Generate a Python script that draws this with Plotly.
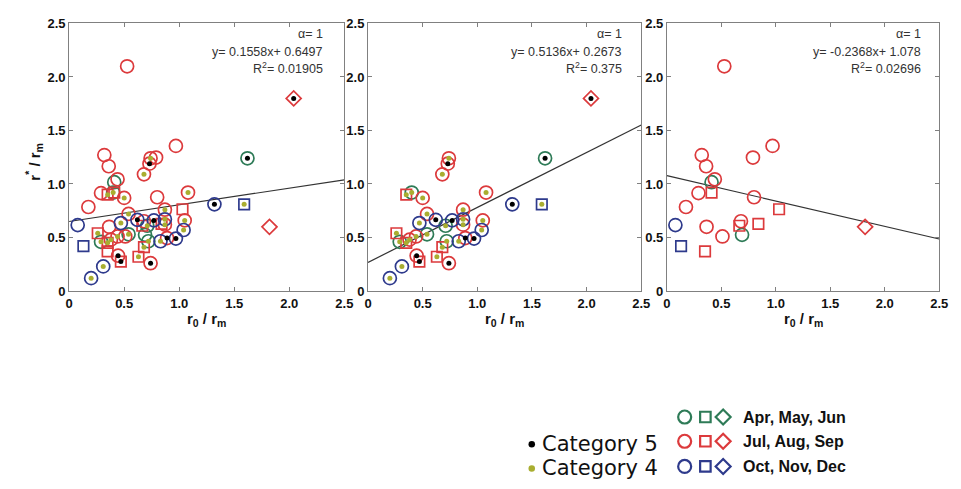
import plotly.graph_objects as go

# ---------------- data ----------------
# Points tagged with a storm category (shown in panels 1 and 2)
cat_x = [2.04, 1.62, 1.59, 1.32, 0.74, 0.73, 0.68, 0.40, 0.35, 0.50,
         1.08, 0.87, 0.54, 1.05, 0.62, 0.77, 0.87, 0.87, 0.47, 0.71,
         1.04, 0.26, 0.54, 0.44, 0.38, 0.29, 0.35, 0.89, 0.97, 0.83,
         0.72, 0.68, 0.445, 0.47, 0.63, 0.74, 0.31, 0.20]
cat_y = [1.80, 1.24, 0.81, 0.81, 1.24, 1.19, 1.09, 0.92, 0.90, 0.87,
         0.92, 0.76, 0.72, 0.66, 0.665, 0.66, 0.67, 0.62, 0.635, 0.61,
         0.57, 0.54, 0.53, 0.51, 0.48, 0.46, 0.45, 0.495, 0.49, 0.465,
         0.465, 0.41, 0.33, 0.275, 0.32, 0.26, 0.23, 0.12]
cat_season = ["JAS", "AMJ", "OND", "OND", "JAS", "JAS", "JAS", "AMJ", "JAS", "JAS",
              "JAS", "JAS", "JAS", "JAS", "OND", "OND", "OND", "JAS", "OND", "AMJ",
              "OND", "JAS", "AMJ", "JAS", "JAS", "AMJ", "JAS", "JAS", "OND", "OND",
              "AMJ", "JAS", "JAS", "JAS", "JAS", "JAS", "OND", "OND"]
cat_shape = ["diamond", "circle", "square", "circle", "circle", "circle", "circle", "circle", "square", "circle",
             "circle", "circle", "circle", "circle", "circle", "circle", "circle", "circle", "circle", "circle",
             "circle", "square", "circle", "circle", "circle", "circle", "square", "circle", "circle", "circle",
             "circle", "square", "circle", "square", "square", "circle", "circle", "circle"]
cat_class = [5, 5, 4, 5, 4, 5, 4, 4, 4, 4,
             4, 4, 4, 4, 5, 5, 4, 4, 4, 4,
             4, 4, 4, 4, 4, 4, 4, 5, 5, 4,
             4, 4, 5, 5, 4, 5, 4, 4]

# Points without a category tag (shown in panels 1 and 3)
oth_x = [0.527, 0.32, 0.36, 0.79, 0.97, 0.44, 0.41, 0.29, 0.41, 0.80, 0.175,
         1.03, 0.078, 0.364, 0.68, 0.665, 0.84, 0.69, 0.51, 0.13, 0.35, 1.82]
oth_y = [2.10, 1.27, 1.166, 1.247, 1.356, 1.044, 1.017, 0.915, 0.92, 0.876, 0.785,
         0.764, 0.616, 0.60, 0.652, 0.61, 0.628, 0.525, 0.51, 0.42, 0.37, 0.60]
oth_season = ["JAS", "JAS", "JAS", "JAS", "JAS", "JAS", "AMJ", "JAS", "JAS", "JAS", "JAS",
              "JAS", "OND", "JAS", "JAS", "JAS", "JAS", "AMJ", "JAS", "OND", "JAS", "JAS"]
oth_shape = ["circle", "circle", "circle", "circle", "circle", "circle", "circle", "circle", "square", "circle", "circle",
             "square", "circle", "circle", "circle", "square", "square", "circle", "circle", "square", "square", "diamond"]

# Linear fits per panel
fit_slope = [0.1558, 0.5136, -0.2368]
fit_icpt = [0.6497, 0.2673, 1.078]
fit_eq = ["y= 0.1558x+ 0.6497", "y= 0.5136x+ 0.2673", "y= -0.2368x+ 1.078"]
fit_r2 = ["0.01905", "0.375", "0.02696"]

tick_vals = [0, 0.5, 1.0, 1.5, 2.0, 2.5]
tick_text = ["0", "0.5", "1.0", "1.5", "2.0", "2.5"]

season_names = ["AMJ", "JAS", "OND"]
season_labels = ["Apr, May, Jun", "Jul, Aug, Sep", "Oct, Nov, Dec"]
category_labels = ["Category 5", "Category 4"]

# ---------------- styles ----------------
W, H = 961, 489
season_color = {"AMJ": "#2E7B57", "JAS": "#DC3A3C", "OND": "#2E3A8C"}
shape_symbol = {"circle": "circle-open", "square": "square-open", "diamond": "diamond-open"}
shape_size = {"circle": 13, "square": 10.5, "diamond": 11.5}
class_color = {5: "#000000", 4: "#A9AE30"}

px_x = [(66, 345), (369, 646), (672, 948)]
py_top, py_bot = 17, 293

fig = go.Figure()


def add_points(xs, ys, seasons, shapes, classes, ax):
    xa, ya = ("x", "y") if ax == 1 else (f"x{ax}", f"y{ax}")
    for s in season_names:
        for sh in ["circle", "square", "diamond"]:
            idx = [i for i in range(len(xs)) if seasons[i] == s and shapes[i] == sh]
            if not idx:
                continue
            fig.add_trace(go.Scatter(
                x=[xs[i] for i in idx], y=[ys[i] for i in idx], mode="markers",
                xaxis=xa, yaxis=ya, showlegend=False, hoverinfo="skip",
                marker=dict(symbol=shape_symbol[sh], size=shape_size[sh],
                            color=season_color[s], line=dict(width=1.7, color=season_color[s]))))
    if classes is not None:
        for c in [4, 5]:
            idx = [i for i in range(len(xs)) if classes[i] == c]
            fig.add_trace(go.Scatter(
                x=[xs[i] for i in idx], y=[ys[i] for i in idx], mode="markers",
                xaxis=xa, yaxis=ya, showlegend=False, hoverinfo="skip",
                marker=dict(symbol="circle", size=5, color=class_color[c], line=dict(width=0))))


all_x = cat_x + oth_x
all_y = cat_y + oth_y
all_season = cat_season + oth_season
all_shape = cat_shape + oth_shape
all_class = cat_class + [None] * len(oth_x)

panels = [
    (all_x, all_y, all_season, all_shape, all_class),
    (cat_x, cat_y, cat_season, cat_shape, cat_class),
    (oth_x, oth_y, oth_season, oth_shape, None),
]

for k, (xs, ys, ss, shs, cls) in enumerate(panels):
    ax = k + 1
    xa, ya = ("x", "y") if ax == 1 else (f"x{ax}", f"y{ax}")
    lx = [0, 2.5]
    ly = [fit_icpt[k] + fit_slope[k] * v for v in lx]
    fig.add_trace(go.Scatter(x=lx, y=ly, mode="lines", xaxis=xa, yaxis=ya,
                             showlegend=False, hoverinfo="skip",
                             line=dict(color="#333333", width=1.2)))
    add_points(xs, ys, ss, shs, cls, ax)

axis_common = dict(range=[0, 2.5], tickvals=tick_vals, ticktext=tick_text,
                   showline=True, mirror="ticks", linecolor="#808080", linewidth=1,
                   ticks="inside", ticklen=4, tickcolor="#808080",
                   showgrid=False, zeroline=False,
                   tickfont=dict(family="Liberation Sans", size=13, color="#111111", weight="bold"))

layout = dict(width=W, height=H, margin=dict(l=0, r=0, t=0, b=0),
              paper_bgcolor="white", plot_bgcolor="rgba(0,0,0,0)", showlegend=False)
for k in range(3):
    ax = k + 1
    xd = [px_x[k][0] / W, px_x[k][1] / W]
    yd = [1 - py_bot / H, 1 - py_top / H]
    xname = "xaxis" if ax == 1 else f"xaxis{ax}"
    yname = "yaxis" if ax == 1 else f"yaxis{ax}"
    layout[xname] = dict(domain=xd, anchor="y" if ax == 1 else f"y{ax}", **axis_common)
    layout[yname] = dict(domain=yd, anchor="x" if ax == 1 else f"x{ax}", **axis_common)

# hidden pixel-space axis for the legend block
layout["xaxis4"] = dict(domain=[0, 1], range=[0, W], visible=False, fixedrange=True, anchor="y4")
layout["yaxis4"] = dict(domain=[0, 1], range=[H, 0], visible=False, fixedrange=True, anchor="x4")
fig.update_layout(**layout)

annotations = []
ann_right = [325, 628, 932]
for k in range(3):
    for txt, yy in [("α= 1", 28), (fit_eq[k], 46), ("R<sup>2</sup>= " + fit_r2[k], 63)]:
        annotations.append(dict(x=ann_right[k] / W, y=1 - yy / H, xref="paper", yref="paper",
                                text=txt, showarrow=False, xanchor="right", yanchor="middle",
                                font=dict(family="Liberation Sans", size=12.5, color="#333333")))
    annotations.append(dict(x=(px_x[k][0] + px_x[k][1]) / 2 / W, y=1 - 322 / H, xref="paper", yref="paper",
                            text="r<sub>0</sub> / r<sub>m</sub>", showarrow=False,
                            xanchor="center", yanchor="middle",
                            font=dict(family="Liberation Sans", size=15, color="#111111", weight="bold")))
annotations.append(dict(x=30 / W, y=1 - 160 / H, xref="paper", yref="paper",
                        text="r<sup>*</sup> / r<sub>m</sub>", showarrow=False, textangle=-90,
                        xanchor="center", yanchor="middle",
                        font=dict(family="Liberation Sans", size=15, color="#111111", weight="bold")))

cat_rows_y = [451, 476]
for c, lab, yy in zip([5, 4], category_labels, cat_rows_y):
    fig.add_trace(go.Scatter(x=[535], y=[yy], mode="markers", xaxis="x4", yaxis="y4",
                             showlegend=False, hoverinfo="skip",
                             marker=dict(symbol="circle", size=6.5, color=class_color[c])))
    annotations.append(dict(x=543 / W, y=1 - yy / H, xref="paper", yref="paper", text=lab,
                            showarrow=False, xanchor="left", yanchor="middle",
                            font=dict(family="DejaVu Sans", size=21, color="#111111")))

season_rows_y = [423, 448, 474]
legend_sym_size = {"circle": 13, "square": 10.5, "diamond": 11.5}
for s, lab, yy in zip(season_names, season_labels, season_rows_y):
    for sh, xx in [("circle", 690), ("square", 711), ("diamond", 729)]:
        fig.add_trace(go.Scatter(x=[xx], y=[yy], mode="markers", xaxis="x4", yaxis="y4",
                                 showlegend=False, hoverinfo="skip",
                                 marker=dict(symbol=shape_symbol[sh], size=legend_sym_size[sh],
                                             color=season_color[s],
                                             line=dict(width=2.2, color=season_color[s]))))
    annotations.append(dict(x=747 / W, y=1 - yy / H, xref="paper", yref="paper", text=lab,
                            showarrow=False, xanchor="left", yanchor="middle",
                            font=dict(family="Liberation Sans", size=16, color="#111111", weight="bold")))

fig.update_layout(annotations=annotations)
fig.write_html("out.html")
